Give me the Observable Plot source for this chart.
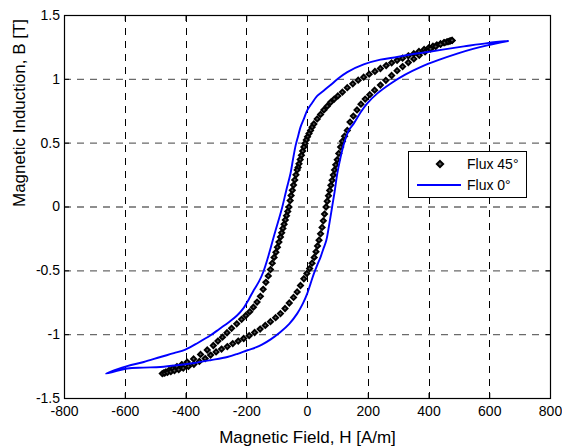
<!DOCTYPE html>
<html>
<head>
<meta charset="utf-8">
<script src="https://cdn.jsdelivr.net/npm/d3@7"></script>
<script src="https://cdn.jsdelivr.net/npm/@observablehq/plot@0.6"></script>
<style>
  html, body { margin: 0; padding: 0; background: #fff; }
  #wrap { position: relative; width: 562px; height: 447px; font-family: "Liberation Sans", Arial, sans-serif; }
  #legend { position: absolute; left: 408px; top: 151px; width: 117px; height: 45px; border: 1px solid #000; background: #fff; }
</style>
</head>
<body>
<div id="wrap"></div>
<script>
// ---- Data ----
const xTicks = [-800, -600, -400, -200, 0, 200, 400, 600, 800];
const yTicks = [-1.5, -1, -0.5, 0, 0.5, 1, 1.5];
const xLabel = "Magnetic Field, H [A/m]";
const yLabel = "Magnetic Induction, B [T]";
const seriesNames = ["Flux 45°", "Flux 0°"];

// Flux 45° (diamond markers): descending branch then ascending branch
const flux45H = [
  476,468,459,449,438,426,413,399,384,367,350,332,313,295,277,259,240,222,203,185,167,149,131,115,100,88,76,65,54,43,32,21,15,10,5,0,-4,-8,-12,-16,-20,-24,-28,-31,-34,-38,-42,-46,-50,-54,-57,-61,-65,-69,-73,-77,-81,-85,-89,-94,-99,-104,-110,-116,-122,-129,-137,-146,-155,-166,-178,-190,-203,-217,-233,-250,-265,-280,-295,-310,-330,-352,-375,-396,-414,-430,-444,-456,-466,-473,-478,
  -470,-461,-450,-438,-424,-409,-392,-374,-356,-337,-319,-301,-283,-264,-246,-228,-210,-192,-174,-156,-139,-122,-105,-89,-74,-60,-46,-34,-23,-12,-2,7,15,22,28,33,38,43,48,52,56,61,65,69,73,77,81,85,89,93,98,103,109,115,122,131,140,151,163,176,190,205,221,240,258,277,295,313,332,350,368,387,405,422,438,452,463,471,476
];
const flux45B = [
  1.305,1.300,1.294,1.287,1.279,1.270,1.259,1.247,1.234,1.218,1.201,1.184,1.166,1.149,1.129,1.108,1.085,1.062,1.040,1.017,0.993,0.965,0.935,0.900,0.870,0.845,0.820,0.790,0.760,0.725,0.690,0.650,0.625,0.600,0.575,0.550,0.525,0.498,0.470,0.438,0.405,0.372,0.338,0.310,0.290,0.252,0.212,0.172,0.131,0.090,0.050,0.000,-0.035,-0.068,-0.101,-0.135,-0.168,-0.202,-0.235,-0.275,-0.315,-0.355,-0.395,-0.440,-0.490,-0.540,-0.590,-0.645,-0.700,-0.745,-0.785,-0.820,-0.850,-0.880,-0.915,-0.950,-0.985,-1.020,-1.050,-1.085,-1.120,-1.155,-1.190,-1.215,-1.234,-1.250,-1.266,-1.280,-1.292,-1.300,-1.305,
  -1.301,-1.296,-1.290,-1.282,-1.274,-1.262,-1.249,-1.232,-1.210,-1.187,-1.160,-1.135,-1.113,-1.093,-1.070,-1.050,-1.030,-1.008,-0.983,-0.956,-0.928,-0.898,-0.867,-0.835,-0.795,-0.752,-0.708,-0.665,-0.615,-0.562,-0.520,-0.482,-0.440,-0.395,-0.350,-0.305,-0.260,-0.210,-0.160,-0.108,-0.055,0.000,0.045,0.088,0.130,0.170,0.209,0.250,0.290,0.330,0.370,0.420,0.470,0.515,0.555,0.600,0.665,0.712,0.760,0.805,0.845,0.880,0.915,0.955,0.992,1.030,1.068,1.100,1.132,1.160,1.188,1.215,1.238,1.257,1.274,1.287,1.296,1.302,1.305
];

// Flux 0° (blue line): descending branch then ascending branch
const flux0H = [
  660,592,515,450,394,340,295,240,185,131,100,76,55,32,15,-1,-12,-23,-31,-39,-48,-56,-70,-83,-97,-109,-120,-132,-145,-160,-177,-193,-210,-232,-258,-290,-319,-360,-402,-440,-484,-539,-594,-663,
  -594,-540,-484,-430,-374,-320,-264,-230,-198,-170,-150,-120,-89,-60,-34,-15,-1,10,21,32,43,52,62,72,81,90,98,108,120,136,152,173,196,230,273,320,372,430,493,545,592,660
];
const flux0B = [
  1.300,1.284,1.258,1.235,1.214,1.195,1.175,1.154,1.117,1.057,1.005,0.955,0.915,0.870,0.815,0.757,0.690,0.626,0.555,0.483,0.370,0.262,0.130,0.000,-0.118,-0.215,-0.310,-0.410,-0.505,-0.585,-0.652,-0.722,-0.790,-0.850,-0.900,-0.955,-1.005,-1.063,-1.117,-1.145,-1.175,-1.214,-1.247,-1.305,
  -1.265,-1.258,-1.253,-1.240,-1.222,-1.200,-1.175,-1.150,-1.122,-1.100,-1.078,-1.035,-0.979,-0.915,-0.835,-0.755,-0.678,-0.600,-0.522,-0.455,-0.392,-0.330,-0.261,-0.130,0.000,0.130,0.262,0.380,0.496,0.600,0.653,0.735,0.810,0.890,0.966,1.035,1.096,1.150,1.201,1.238,1.266,1.300
];

// ---- Build tables ----
const d45 = flux45H.map((h, i) => ({H: h, B: flux45B[i]}));
const d0 = flux0H.map((h, i) => ({H: h, B: flux0B[i]}));
const fmt = d => String(d);
const innerX = xTicks.slice(1, -1);
const innerY = yTicks.slice(1, -1);

const chart = Plot.plot({
  width: 562,
  height: 447,
  marginLeft: 64,
  marginRight: 12,
  marginTop: 15,
  marginBottom: 49,
  style: {fontFamily: "'Liberation Sans', Arial, sans-serif", fontSize: "14px", background: "white", color: "black"},
  x: {domain: [-800, 800], label: null},
  y: {domain: [-1.5, 1.5], label: null},
  marks: [
    Plot.ruleX(innerX, {stroke: "#000", strokeDasharray: "7,6", strokeWidth: 1, shapeRendering: "crispEdges"}),
    Plot.ruleY(innerY, {stroke: "#6a6a6a", strokeDasharray: "7,6", strokeWidth: 1.4}),
    Plot.axisX(xTicks, {anchor: "bottom", tickSize: -5, tickPadding: 12.5, tickFormat: fmt, label: null, fontSize: 14}),
    Plot.axisX(xTicks, {anchor: "top", tickSize: -5, tickFormat: () => "", label: null}),
    Plot.axisY(yTicks, {anchor: "left", tickSize: -5, tickPadding: 9.5, tickFormat: fmt, label: null, fontSize: 14}),
    Plot.axisY(yTicks, {anchor: "right", tickSize: -5, tickFormat: () => "", label: null}),
    Plot.dot(d45, {x: "H", y: "B", symbol: "diamond2", r: 2.3, stroke: "#000", strokeWidth: 1.9, fill: "#555"}),
    Plot.line(d0, {x: "H", y: "B", stroke: "#0000ff", strokeWidth: 1.9, curve: "catmull-rom"}),
    Plot.frame({stroke: "#000", strokeWidth: 1.2}),
    Plot.text([xLabel], {frameAnchor: "bottom", text: d => d, dy: 44, lineAnchor: "bottom", fontSize: 17}),
    Plot.text([yLabel], {frameAnchor: "left", text: d => d, rotate: -90, dx: -39.5, lineAnchor: "bottom", fontSize: 17})
  ]
});

const wrap = document.getElementById("wrap");
wrap.appendChild(chart);

// Legend (inside plot area, as in the reference)
const legend = document.createElement("div");
legend.id = "legend";
legend.innerHTML = `
<svg width="117" height="45" style="display:block;font-family:'Liberation Sans',Arial,sans-serif;font-size:14px">
  <path d="M31,8.8 L34.2,12 L31,15.2 L27.8,12 Z" fill="#555" stroke="#000" stroke-width="1.9"/>
  <text x="58" y="17">${seriesNames[0]}</text>
  <line x1="8" x2="52" y1="33" y2="33" stroke="#0000ff" stroke-width="1.9"/>
  <text x="58" y="38">${seriesNames[1]}</text>
</svg>`;
wrap.appendChild(legend);
</script>
</body>
</html>
